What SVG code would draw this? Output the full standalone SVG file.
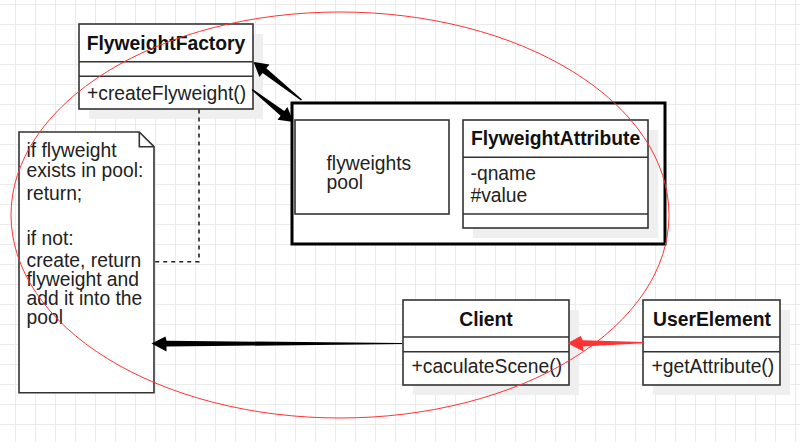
<svg xmlns="http://www.w3.org/2000/svg" width="800" height="442" viewBox="0 0 800 442">
<defs>
<pattern id="grid" width="20" height="20" patternUnits="userSpaceOnUse" x="15" y="4">
<path d="M0.5 0V20M0 0.5H20" fill="none" stroke="#ebebeb" stroke-width="1"/>
</pattern>
<style>
text{font-family:"Liberation Sans",Arial,sans-serif;font-size:19.3px;fill:#222}
.title{font-weight:bold;fill:#111;text-anchor:middle}
.box{fill:#fff;stroke:#333;stroke-width:1.6}
.shadow{fill:#efefef}
.div{stroke:#333;stroke-width:1.6;fill:none}
</style>
</defs>
<rect width="800" height="442" fill="#fff"/>
<rect width="800" height="442" fill="url(#grid)"/>

<g id="FlyweightFactory">
<rect class="shadow" x="89" y="34" width="174" height="85"/>
<rect class="box" x="79" y="24" width="174" height="85"/>
<path class="div" d="M79 61.7H253M79 76.3H253"/>
<text class="title" x="166" y="50">FlyweightFactory</text>
<text x="87" y="100">+createFlyweight()</text>
</g>

<g id="FlyweightsPoolContainer">
<rect x="292" y="103" width="373" height="141" fill="#fff" stroke="#000" stroke-width="3"/>
</g>

<g id="FlyweightsPool">
<rect class="box" x="295" y="120" width="154" height="94"/>
<text x="326.5" y="170">flyweights</text>
<text x="326.5" y="189">pool</text>
</g>

<g id="FlyweightAttribute">
<rect class="shadow" x="473" y="130" width="185" height="108"/>
<rect class="box" x="463" y="120" width="185" height="108"/>
<path class="div" d="M463 157.3H648M463 214H648"/>
<text class="title" x="555.5" y="145">FlyweightAttribute</text>
<text x="470.5" y="180">-qname</text>
<text x="470.5" y="201.5">#value</text>
</g>

<g id="Note">
<path class="box" d="M19 132H139.3L154 146.7V392.7H19Z"/>
<path class="div" d="M139.3 132V146.7H154"/>
<text x="26.5" y="157">if flyweight</text>
<text x="26.5" y="177">exists in pool:</text>
<text x="26.5" y="200">return;</text>
<text x="26.5" y="245">if not:</text>
<text x="26.5" y="267">create, return</text>
<text x="26.5" y="286">flyweight and</text>
<text x="26.5" y="305">add it into the</text>
<text x="26.5" y="324">pool</text>
</g>

<g id="Client">
<rect class="shadow" x="413" y="310" width="166" height="85"/>
<rect class="box" x="403" y="300" width="166" height="85"/>
<path class="div" d="M403 337H569M403 351.7H569"/>
<text class="title" x="486" y="325.5">Client</text>
<text x="411.5" y="373.3">+caculateScene()</text>
</g>

<g id="UserElement">
<rect class="shadow" x="653" y="310" width="137" height="85"/>
<rect class="box" x="643" y="300" width="137" height="85"/>
<path class="div" d="M643 337H780M643 351.7H780"/>
<text class="title" x="712" y="325.5">UserElement</text>
<text x="651.5" y="373.3">+getAttribute()</text>
</g>

<g id="connectors">
<path d="M199 109.5V261.7H154.5" fill="none" stroke="#222" stroke-width="1.6" stroke-dasharray="4 4"/>
<polygon points="302,99.4 266.3,68.3 269.5,64.4 253.5,62 259.5,77 262.6,73 301,100.6" fill="#000"/>
<polygon points="251.5,90.1 280.6,115.7 277.5,119.7 293.5,122 287.4,107.1 284.3,111 252.5,88.9" fill="#000"/>
<polygon points="402,343 166.5,340.8 165.5,336.5 151.5,343.5 166.5,351.5 166.5,346.6 402,344" fill="#000"/>
<polygon points="643,342 583,340.2 580.5,336 567.5,343.3 583.5,351.5 583,346.4 643,343.2" fill="#f33"/>
</g>

<g id="highlight">
<ellipse cx="340" cy="215" rx="329" ry="203" fill="none" stroke="#f33" stroke-width="1"/>
</g>
</svg>
